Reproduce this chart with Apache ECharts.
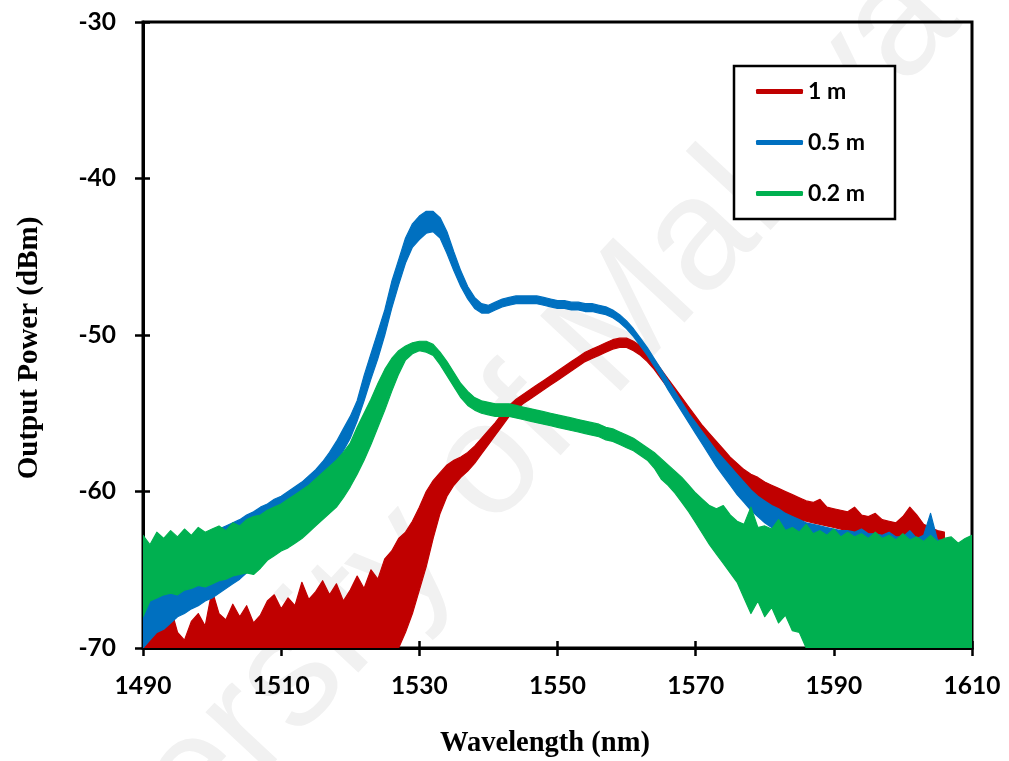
<!DOCTYPE html>
<html>
<head>
<meta charset="utf-8">
<script src="https://cdn.jsdelivr.net/npm/echarts@6/dist/echarts.min.js"></script>
<style>html,body{margin:0;padding:0;background:#fff}#c{width:1009px;height:761px}</style>
</head>
<body>
<div id="c"></div>
<script>
// x ticks and y ticks
const xTicks = [1490, 1510, 1530, 1550, 1570, 1590, 1610];
const yTicks = [-70, -60, -50, -40, -30];
const seriesNames = ['1 m', '0.5 m', '0.2 m'];

// spectra sampled every 1 nm from 1490 nm to 1610 nm: upper and lower edge of each noisy trace (dBm)
const red1mHi = [-68.8,-69.3,-67.6,-68.4,-67.4,-69.0,-69.5,-68.3,-67.8,-68.6,-66.3,-67.8,-68.2,-67.2,-68.0,-67.3,-68.4,-67.9,-67.0,-66.6,
-67.5,-66.8,-67.3,-65.8,-66.9,-66.4,-65.7,-66.6,-65.9,-67.0,-66.3,-65.4,-66.2,-65.0,-65.6,-64.3,-63.8,-63.0,-62.6,-61.9,
-61.0,-60.0,-59.3,-58.8,-58.3,-58.0,-57.8,-57.5,-57.1,-56.6,-56.1,-55.6,-55.0,-54.5,-54.1,-53.8,-53.5,-53.2,-52.9,-52.6,
-52.3,-52.0,-51.7,-51.4,-51.1,-50.9,-50.7,-50.5,-50.3,-50.2,-50.2,-50.4,-50.7,-51.1,-51.6,-52.2,-52.8,-53.4,-54.0,-54.6,
-55.2,-55.8,-56.3,-56.8,-57.3,-57.8,-58.2,-58.6,-58.9,-59.1,-59.4,-59.6,-59.8,-60.0,-60.2,-60.4,-60.6,-60.7,-60.5,-61.0,
-61.1,-61.2,-61.3,-61.0,-61.5,-61.6,-61.4,-61.8,-61.9,-62.0,-61.6,-61.0,-61.5,-62.1,-62.3,-62.5,-62.6,null,null,null,null];
const red1mLo = [-70,-70,-70,-70,-70,-70,-70,-70,-70,-70,-70,-70,-70,-70,-70,-70,-70,-70,-70,-70,
-70,-70,-70,-70,-70,-70,-70,-70,-70,-70,-70,-70,-70,-70,-70,-70,-70,-70,-69.0,-67.8,
-66.3,-64.8,-63.0,-61.4,-60.3,-59.6,-59.1,-58.7,-58.2,-57.6,-57.0,-56.4,-55.8,-55.2,-54.8,-54.4,-54.1,-53.8,-53.5,-53.2,
-52.9,-52.6,-52.3,-52.0,-51.7,-51.5,-51.3,-51.1,-50.9,-50.8,-50.8,-51.0,-51.3,-51.7,-52.2,-52.8,-53.4,-54.0,-54.7,-55.3,
-56.0,-56.7,-57.3,-57.9,-58.4,-59.0,-59.5,-59.9,-60.3,-60.6,-60.9,-61.1,-61.3,-61.5,-61.6,-61.8,-61.9,-62.0,-62.1,-62.2,
-62.3,-62.4,-62.5,-62.6,-62.7,-62.8,-62.9,-63.0,-63.0,-63.1,-63.2,-63.2,-63.3,-63.3,-63.4,-63.4,-63.5,null,null,null,null];

const blue05mHi = [-64.0,-64.2,-64.0,-64.0,-63.8,-63.6,-63.5,-63.3,-63.0,-62.8,-62.6,-62.4,-62.2,-62.0,-61.8,-61.5,-61.3,-61.0,-60.8,-60.5,
-60.3,-60.0,-59.7,-59.4,-59.0,-58.6,-58.1,-57.5,-56.8,-56.0,-55.2,-54.2,-52.6,-51.2,-49.8,-48.4,-46.6,-45.2,-43.8,-42.9,
-42.4,-42.1,-42.1,-42.5,-43.4,-44.7,-45.9,-46.9,-47.6,-48.0,-48.1,-47.9,-47.7,-47.6,-47.5,-47.5,-47.5,-47.5,-47.6,-47.7,
-47.8,-47.8,-47.9,-47.9,-48.0,-48.0,-48.1,-48.2,-48.4,-48.7,-49.1,-49.6,-50.2,-50.8,-51.5,-52.2,-52.9,-53.6,-54.3,-55.0,
-55.6,-56.2,-56.8,-57.4,-57.9,-58.4,-58.9,-59.4,-59.9,-60.3,-60.6,-60.9,-61.1,-61.4,-61.6,-61.8,-62.0,-62.1,-62.2,-62.3,
-62.4,-62.5,-62.5,-62.6,-62.4,-62.7,-62.7,-62.8,-62.6,-62.9,-62.9,-62.5,-63.0,-62.8,-61.4,-63.1,-63.1,null,null,null,null];
const blue05mLo = [-70,-69.5,-69.0,-68.8,-68.4,-68.0,-67.8,-67.5,-67.3,-67.0,-66.8,-66.5,-66.2,-65.9,-65.6,-65.2,-64.6,-64.1,-63.6,-63.1,
-62.6,-62.2,-61.8,-61.4,-60.8,-60.3,-59.6,-59.0,-58.2,-57.4,-56.6,-55.5,-54.2,-52.8,-51.5,-50.0,-48.3,-46.8,-45.4,-44.4,
-43.9,-43.5,-43.4,-43.8,-44.8,-45.9,-46.9,-47.7,-48.3,-48.6,-48.6,-48.4,-48.2,-48.1,-48.0,-48.0,-48.0,-48.0,-48.1,-48.2,
-48.3,-48.3,-48.4,-48.4,-48.5,-48.5,-48.6,-48.7,-48.9,-49.2,-49.6,-50.1,-50.7,-51.3,-52.0,-52.7,-53.5,-54.2,-54.9,-55.6,
-56.3,-57.0,-57.7,-58.4,-59.0,-59.6,-60.2,-60.7,-61.2,-61.6,-62.0,-62.3,-62.6,-62.9,-63.2,-63.4,-63.6,-63.8,-64.0,-64.0,
-64.0,-64.2,-64.2,-64.3,-64.3,-64.4,-64.4,-64.5,-64.5,-64.6,-64.6,-64.7,-64.7,-64.8,-64.8,-64.9,-64.9,null,null,null,null];

const green02mHi = [-62.8,-63.4,-62.6,-63.0,-62.5,-62.9,-62.4,-62.8,-62.3,-62.6,-62.4,-62.2,-62.5,-62.0,-62.2,-61.8,-61.6,-61.5,-61.2,-61.0,
-60.8,-60.5,-60.2,-59.9,-59.6,-59.2,-58.8,-58.4,-58.0,-57.5,-56.9,-55.9,-55.0,-54.1,-53.1,-52.2,-51.5,-51.0,-50.7,-50.5,
-50.4,-50.4,-50.6,-51.1,-51.7,-52.4,-53.1,-53.6,-54.0,-54.2,-54.3,-54.4,-54.4,-54.4,-54.5,-54.6,-54.7,-54.8,-54.9,-55.0,
-55.1,-55.2,-55.3,-55.4,-55.5,-55.6,-55.7,-55.9,-56.0,-56.2,-56.4,-56.6,-56.9,-57.2,-57.5,-57.9,-58.3,-58.7,-59.1,-59.6,
-60.1,-60.5,-60.9,-61.1,-60.9,-61.5,-61.9,-62.1,-61.0,-62.3,-62.2,-62.4,-61.8,-62.5,-62.3,-62.6,-62.1,-62.7,-62.5,-62.8,
-62.4,-62.9,-62.6,-62.9,-62.7,-63.0,-62.6,-63.0,-62.8,-63.1,-62.7,-63.1,-62.9,-63.2,-62.8,-63.2,-63.0,-62.9,-63.3,-63.0,-62.8];
const green02mLo = [-68.0,-67.0,-66.8,-66.6,-66.5,-66.6,-66.3,-66.2,-66.0,-66.1,-65.9,-65.7,-65.6,-65.4,-65.3,-65.2,-65.3,-64.9,-64.4,-64.1,
-63.8,-63.6,-63.3,-63.0,-62.6,-62.2,-61.8,-61.4,-61.0,-60.4,-59.7,-58.9,-58.0,-57.0,-55.9,-54.8,-53.6,-52.5,-51.6,-51.2,
-51.0,-51.1,-51.3,-51.9,-52.6,-53.3,-54.0,-54.5,-54.8,-55.0,-55.1,-55.2,-55.2,-55.2,-55.3,-55.4,-55.5,-55.6,-55.7,-55.8,
-55.9,-56.0,-56.1,-56.2,-56.3,-56.4,-56.5,-56.7,-56.8,-57.0,-57.2,-57.4,-57.7,-58.0,-58.5,-59.2,-59.6,-60.1,-60.7,-61.3,
-62.0,-62.7,-63.4,-64.0,-64.6,-65.2,-65.8,-66.8,-67.8,-67.0,-68.0,-67.4,-68.4,-67.9,-68.9,-69.0,-70,-70,-70,-70,
-70,-70,-70,-70,-70,-70,-70,-70,-70,-70,-70,-70,-70,-70,-70,-70,-70,-70,-70,-70,-70];

const wavelength = red1mHi.map((_, i) => 1490 + i);

const colors = ['#C00000', '#0070C0', '#00B050'];
const bands = [[red1mHi, red1mLo], [blue05mHi, blue05mLo], [green02mHi, green02mLo]];

function bandRenderer(hi, lo) {
  return function (params, api) {
    const pts = [];
    for (let i = 0; i < wavelength.length; i++) {
      if (hi[i] != null) pts.push(api.coord([wavelength[i], hi[i]]));
    }
    for (let i = wavelength.length - 1; i >= 0; i--) {
      if (lo[i] != null) pts.push(api.coord([wavelength[i], lo[i]]));
    }
    const c = api.visual('color');
    return {
      type: 'polygon',
      shape: { points: pts },
      style: { fill: c, stroke: c, lineWidth: 1.2, lineJoin: 'round' }
    };
  };
}

const chart = echarts.init(document.getElementById('c'), null, { renderer: 'canvas' });
const tickFont = { fontFamily: 'Lato', fontWeight: 'bold', fontSize: 24.5, color: '#000' };
const plain = v => String(v);

const option = {
  animation: false,
  backgroundColor: '#fff',
  grid: { left: 143, right: 37, top: 22, bottom: 113, show: true, borderColor: '#000', borderWidth: 3, backgroundColor: 'transparent' },
  graphic: [
    { type: 'text', x: 440, y: 520, rotation: 47 * Math.PI / 180, z: -10, silent: true,
      style: { text: 'University of Malaya', fontFamily: 'Liberation Sans', fontSize: 160, fill: '#f1f1f1', align: 'center', verticalAlign: 'middle' } },
    { type: 'text', x: 30, y: 348, rotation: Math.PI / 2, z: 10,
      style: { text: 'Output Power (dBm)', fontFamily: 'Liberation Serif', fontWeight: 'bold', fontSize: 29, fill: '#000', align: 'center', verticalAlign: 'middle' } },
    { type: 'text', x: 545, y: 744, z: 10,
      style: { text: 'Wavelength (nm)', fontFamily: 'Liberation Serif', fontWeight: 'bold', fontSize: 28.5, fill: '#000', align: 'center', verticalAlign: 'middle' } }
  ],
  legend: {
    left: 734, top: 66, orient: 'vertical',
    padding: [14, 30, 14, 22],
    itemGap: 28, itemWidth: 47, itemHeight: 5, itemTextGap: 4,
    icon: 'roundRect',
    borderColor: '#000', borderWidth: 2.5, backgroundColor: '#fff',
    textStyle: { fontFamily: 'Lato', fontWeight: 'bold', fontSize: 23, color: '#000' },
    data: seriesNames
  },
  xAxis: [
    { type: 'value', min: xTicks[0], max: xTicks[xTicks.length - 1], interval: xTicks[1] - xTicks[0], position: 'bottom',
      axisLine: { show: true, onZero: false, lineStyle: { color: '#000', width: 3 } },
      axisTick: { show: true, length: 8, lineStyle: { color: '#000', width: 2.5 } },
      axisLabel: Object.assign({ margin: 26, formatter: plain }, tickFont),
      splitLine: { show: false } },
    { type: 'value', min: xTicks[0], max: xTicks[xTicks.length - 1], interval: xTicks[1] - xTicks[0], position: 'bottom',
      axisLine: { show: false, onZero: false },
      axisTick: { show: true, inside: true, length: 7, lineStyle: { color: '#000', width: 2.5 } },
      axisLabel: { show: false }, splitLine: { show: false } }
  ],
  yAxis: [
    { type: 'value', min: yTicks[0], max: yTicks[yTicks.length - 1], interval: yTicks[1] - yTicks[0], position: 'left',
      axisLine: { show: true, onZero: false, lineStyle: { color: '#000', width: 3 } },
      axisTick: { show: true, length: 8, lineStyle: { color: '#000', width: 2.5 } },
      axisLabel: Object.assign({ margin: 27, formatter: plain }, tickFont),
      splitLine: { show: false } },
    { type: 'value', min: yTicks[0], max: yTicks[yTicks.length - 1], interval: yTicks[1] - yTicks[0], position: 'left',
      axisLine: { show: false, onZero: false },
      axisTick: { show: true, inside: true, length: 7, lineStyle: { color: '#000', width: 2.5 } },
      axisLabel: { show: false }, splitLine: { show: false } }
  ],
  series: seriesNames.map((name, k) => ({
    name: name,
    type: 'custom',
    xAxisIndex: 0, yAxisIndex: 0,
    clip: true,
    z: 2 + k,
    itemStyle: { color: colors[k] },
    encode: { x: 0, y: 1 },
    data: [[wavelength[60], bands[k][0][60]]],
    renderItem: bandRenderer(bands[k][0], bands[k][1])
  }))
};
chart.setOption(option);
</script>
</body>
</html>
